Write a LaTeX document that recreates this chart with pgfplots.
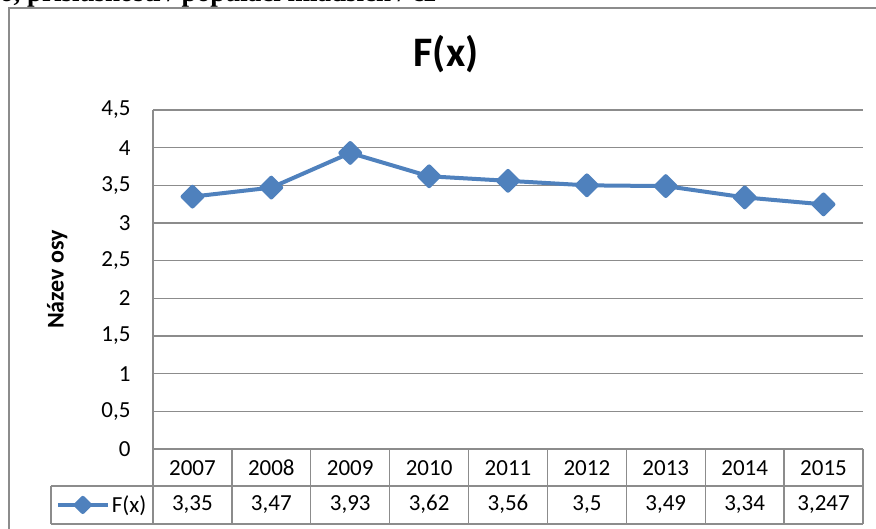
\documentclass[border=0pt]{standalone}
\usepackage{fontspec}
\setmainfont{Carlito}
\newfontfamily\serifbf{Liberation Serif}
\usepackage{pgfplots}
\usepackage{pgfplotstable}
\pgfplotsset{compat=1.18}
\definecolor{xlblue}{RGB}{79,129,189}
\definecolor{xlgrid}{RGB}{140,140,140}
\pgfplotstableread{
idx year val
0 2007 3.35
1 2008 3.47
2 2009 3.93
3 2010 3.62
4 2011 3.56
5 2012 3.5
6 2013 3.49
7 2014 3.34
8 2015 3.247
}\datatable
\pgfkeys{/pgf/number format/assume math mode=true}
\begin{document}
\begin{tikzpicture}
\begin{scope}[shift={(-153pt,-79pt)}, x=1pt, y=1pt]
\useasboundingbox (0,0) rectangle (876,528);
\fill[white] (0,0) rectangle (876,528);
\begin{scope}
\clip (0,0) rectangle (876,528);
\node[anchor=base west, inner sep=0, font=\serifbf\bfseries\fontsize{27}{27}\selectfont] at (0,526) {o, příslušnosti / populaci mladších / cz};
\draw[xlgrid, line width=2pt] (9,-5) -- (9,520) -- (890,520);
\end{scope}
\end{scope}
\begin{axis}[
  anchor=origin, at={(39.444pt,0pt)}, scale only axis,
  width=710pt, height=339pt,
  xmin=-0.5, xmax=8.5, ymin=0, ymax=4.5,
  ytick={0,0.5,1,1.5,2,2.5,3,3.5,4,4.5},
  xtick={0,1,2,3,4,5,6,7,8},
  xticklabels from table={\datatable}{year},
  major tick length=0pt,
  axis x line*=bottom, axis y line*=left,
  axis line style={xlgrid, line width=1.3pt},
  ymajorgrids, grid style={xlgrid, line width=1.3pt},
  /pgf/number format/use comma,
  /pgf/number format/assume math mode=true,
  tick label style={font=\fontsize{23}{23}\selectfont},
  yticklabel style={anchor=east, xshift=-19pt},
  xticklabel style={anchor=center, yshift=-18.5pt, text height=15pt, text depth=0pt},
  title={F(x)},
  title style={at={(axis description cs:0.4127,1)}, anchor=center, yshift=50pt, font=\bfseries\fontsize{42}{42}\selectfont},
  ylabel={Název osy},
  ylabel style={at={(axis description cs:-0.135,0.5)}, anchor=center, font=\bfseries\fontsize{24}{24}\selectfont},
  legend style={at={(axis description cs:-0.0718,-0.165)}, anchor=center, draw=none, fill=none, inner sep=0pt, font=\fontsize{23}{23}\selectfont},
  legend image code/.code={\draw[#1, mark repeat=2, mark phase=2, mark size=5pt] plot coordinates {(0pt,0pt) (25pt,0pt) (50pt,0pt)};},
]
\addplot[xlblue, line width=4pt, line join=round, mark=square*, mark size=7pt, mark options={solid, rotate=45}] table[x=idx, y=val]{\datatable};
\addlegendentry{F(x)}
\end{axis}
\begin{scope}[shift={(-153pt,-79pt)}, x=1pt, y=1pt]
\begin{scope}[xlgrid, line width=1.3pt]
\foreach \k in {0,...,9} {\draw (153+78.889*\k, 79) -- (153+78.889*\k, 4);}
\draw (51,42) -- (863,42);
\draw (51,4) -- (863,4);
\draw (51,42) -- (51,4);
\end{scope}
\foreach \k in {0,...,8} {
  \pgfplotstablegetelem{\k}{val}\of\datatable
  \node[font=\fontsize{23}{23}\selectfont, text height=15pt, text depth=4pt] at (153+78.889*\k+39.444, 23) {\pgfmathprintnumber[use comma, precision=3]{\pgfplotsretval}};
}
\end{scope}
\end{tikzpicture}
\end{document}
